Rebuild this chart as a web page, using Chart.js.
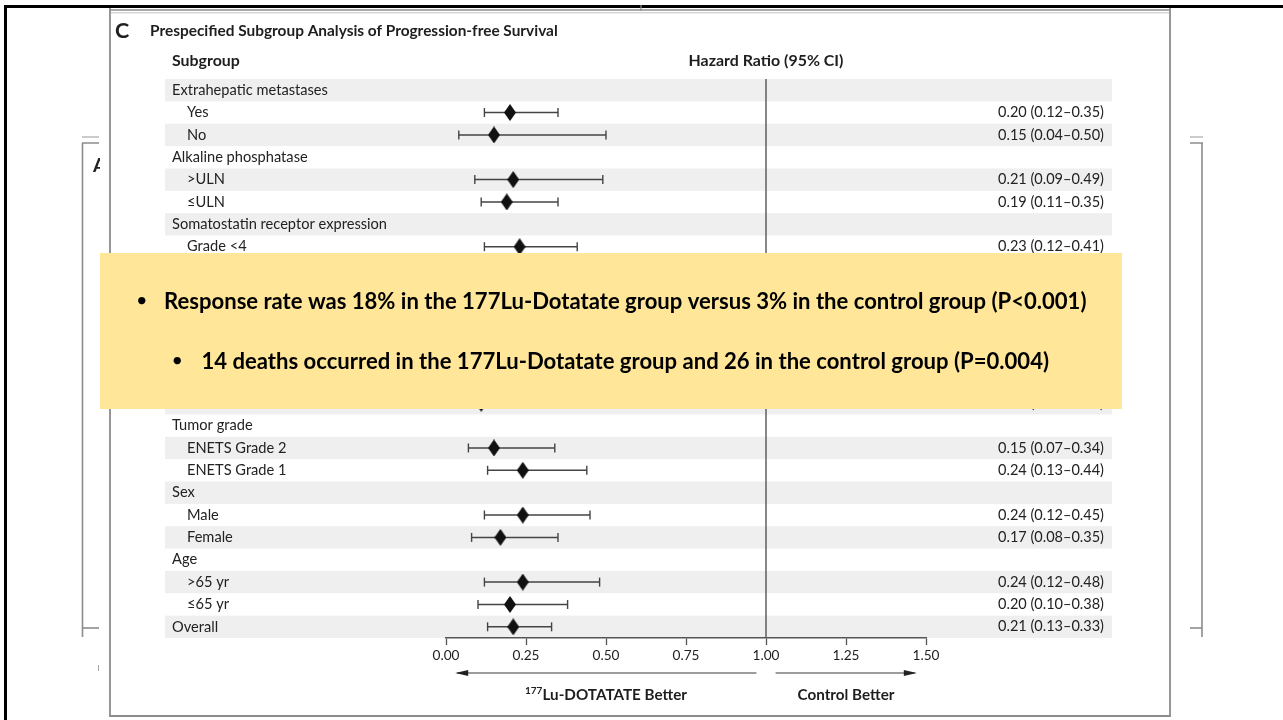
<!DOCTYPE html>
<html>
<head>
<meta charset="utf-8">
<title>Prespecified Subgroup Analysis of Progression-free Survival</title>
<script src="https://cdn.jsdelivr.net/npm/chart.js@4.4.1/dist/chart.umd.min.js"></script>
<style>
  html, body { margin: 0; padding: 0; background: #fff; }
  #wrap { width: 1283px; height: 720px; }
</style>
</head>
<body>
<div id="wrap"><canvas id="forest" width="1283" height="720"></canvas></div>
<script>
// rows, top to bottom
const rowLabels = [
    'Extrahepatic metastases', 'Yes', 'No',
    'Alkaline phosphatase', '>ULN', '\u2264ULN',
    'Somatostatin receptor expression', 'Grade <4', 'Grade 4',
    'Chromogranin A', '>2\u00d7ULN', '\u22642\u00d7ULN',
    '5-HIAA', '>2\u00d7ULN', '\u22642\u00d7ULN',
    'Tumor grade', 'ENETS Grade 2', 'ENETS Grade 1',
    'Sex', 'Male', 'Female',
    'Age', '>65 yr', '\u226465 yr',
    'Overall'
];
const rowIndent = [0, 1, 1, 0, 1, 1, 0, 1, 1, 0, 1, 1, 0, 1, 1, 0, 1, 1, 0, 1, 1, 0, 1, 1, 0];

const hazardRatio = [null, 0.20, 0.15, null, 0.21, 0.19, null, 0.23, 0.15, null, 0.22, 0.17, null, 0.21, 0.11, null, 0.15, 0.24, null, 0.24, 0.17, null, 0.24, 0.20, 0.21];
const ciLower     = [null, 0.12, 0.04, null, 0.09, 0.11, null, 0.12, 0.07, null, 0.12, 0.07, null, 0.11, 0.02, null, 0.07, 0.13, null, 0.12, 0.08, null, 0.12, 0.10, 0.13];
const ciUpper     = [null, 0.35, 0.50, null, 0.49, 0.35, null, 0.41, 0.33, null, 0.41, 0.42, null, 0.40, 0.87, null, 0.34, 0.44, null, 0.45, 0.35, null, 0.48, 0.38, 0.33];

const xTickValues = [0, 0.25, 0.5, 0.75, 1, 1.25, 1.5];
const xTickLabels = ['0.00', '0.25', '0.50', '0.75', '1.00', '1.25', '1.50'];

const calloutLines = [
    'Response rate was 18% in the 177Lu-Dotatate group versus 3% in the control group (P<0.001)',
    '14 deaths occurred in the 177Lu-Dotatate group and 26 in the control group (P=0.004)'
];

const FAMILY = "Lato, 'Open Sans', sans-serif";
const INK = '#1e1e1e';

// pick font sizes so the text runs as wide as in the figure
const mctx = document.createElement('canvas').getContext('2d');
function fitSize(text, weight, target) {
    mctx.font = `${weight} 100px ${FAMILY}`;
    return +(100 * target / mctx.measureText(text).width).toFixed(2);
}
const sz = {
    title: fitSize('Prespecified Subgroup Analysis of Progression-free Survival', 'bold', 408),
    head: fitSize('Hazard Ratio (95% CI)', 'bold', 155),
    row: fitSize('Extrahepatic metastases', 'normal', 156),
    hr: fitSize('0.20 (0.12\u20130.35)', 'normal', 106),
    tick: fitSize('0.00', 'normal', 27),
    foot: fitSize('Control Better', 'bold', 97),
    note: fitSize(calloutLines[0], 'bold', 923)
};

function diamondImage(w, h, color) {
    const c = document.createElement('canvas');
    c.width = w; c.height = h;
    const g = c.getContext('2d');
    g.fillStyle = color;
    g.beginPath();
    g.moveTo(w / 2, 0); g.lineTo(w, h / 2); g.lineTo(w / 2, h); g.lineTo(0, h / 2);
    g.closePath();
    g.fill();
    return c;
}

const diamondPoints = [];
const capPoints = [];
const whiskerPoints = [];
rowLabels.forEach((label, i) => {
    if (hazardRatio[i] === null) return;
    diamondPoints.push({ x: hazardRatio[i], y: i });
    capPoints.push({ x: ciLower[i], y: i }, { x: ciUpper[i], y: i });
    whiskerPoints.push({ x: ciLower[i], y: i }, { x: ciUpper[i], y: i }, { x: null, y: null });
});

function line(ctx, x1, y1, x2, y2, color, width) {
    ctx.strokeStyle = color;
    ctx.lineWidth = width;
    ctx.beginPath();
    ctx.moveTo(x1, y1);
    ctx.lineTo(x2, y2);
    ctx.stroke();
}

function arrow(ctx, x1, x2, y) {
    line(ctx, x1, y, x2, y, '#3a3a3a', 1.2);
    const dir = x2 > x1 ? 1 : -1;
    ctx.fillStyle = '#222';
    ctx.beginPath();
    ctx.moveTo(x2 + dir * 2, y);
    ctx.lineTo(x2 - dir * 11, y - 3);
    ctx.lineTo(x2 - dir * 11, y + 3);
    ctx.closePath();
    ctx.fill();
}

const forestDecor = {
    id: 'forestDecor',
    beforeDraw(chart) {
        const { ctx, scales: { y } } = chart;
        ctx.save();
        ctx.fillStyle = '#fff';
        ctx.fillRect(0, 0, chart.width, chart.height);
        // alternate row shading
        ctx.fillStyle = '#efefef';
        rowLabels.forEach((label, i) => {
            if (i % 2 !== 0) return;
            const top = y.getPixelForValue(i - 0.5);
            const bottom = y.getPixelForValue(i + 0.5);
            ctx.fillRect(165, top, 1112 - 165, bottom - top);
        });
        ctx.restore();
    },
    beforeDatasetsDraw(chart) {
        const { ctx, chartArea, scales: { x } } = chart;
        ctx.save();
        const x1 = x.getPixelForValue(1);
        line(ctx, x1, chartArea.top, x1, chartArea.bottom, '#555', 1.4);
        ctx.restore();
    },
    afterDraw(chart) {
        const { ctx, chartArea, scales: { x, y } } = chart;
        ctx.save();

        // surrounding page frame
        line(ctx, 4, 6.5, 1283, 6.5, '#000', 3);
        line(ctx, 5.5, 5, 5.5, 720, '#000', 3);
        line(ctx, 110, 10, 1170, 10, '#8c8c8c', 1.6);
        line(ctx, 110, 12.8, 1170, 12.8, '#c4c4c4', 1);
        line(ctx, 110, 8, 110, 717, '#8c8c8c', 1.8);
        line(ctx, 1170, 8, 1170, 717, '#8c8c8c', 1.8);
        line(ctx, 110, 716, 1170, 716, '#8c8c8c', 1.8);
        line(ctx, 641, 5, 641, 11, '#8c8c8c', 1.2);
        // neighbouring panels
        line(ctx, 82, 137, 99, 137, '#b0b0b0', 1.3);
        line(ctx, 82, 143, 99, 143, '#8c8c8c', 1.5);
        line(ctx, 82.5, 143, 82.5, 637, '#8c8c8c', 1.6);
        line(ctx, 82, 628, 99, 628, '#8c8c8c', 1.6);
        line(ctx, 98.5, 665, 98.5, 671, '#aaa', 1);
        line(ctx, 1190, 137, 1203, 137, '#b0b0b0', 1.3);
        line(ctx, 1190, 143, 1203, 143, '#8c8c8c', 1.5);
        line(ctx, 1202, 143, 1202, 637, '#8c8c8c', 1.6);
        line(ctx, 1190, 628, 1202, 628, '#8c8c8c', 1.6);
        ctx.save();
        ctx.beginPath();
        ctx.rect(86, 150, 14, 30);
        ctx.clip();
        ctx.fillStyle = '#222';
        ctx.font = `bold 19px ${FAMILY}`;
        ctx.textBaseline = 'middle';
        ctx.fillText('A', 93, 166);
        ctx.restore();

        // title and column heads
        ctx.fillStyle = INK;
        ctx.textBaseline = 'middle';
        ctx.textAlign = 'left';
        ctx.font = `bold ${sz.title * 1.4}px ${FAMILY}`;
        ctx.fillText('C', 115, 31);
        ctx.font = `bold ${sz.title}px ${FAMILY}`;
        ctx.fillText('Prespecified Subgroup Analysis of Progression-free Survival', 150, 31);
        ctx.font = `bold ${sz.head}px ${FAMILY}`;
        ctx.fillText('Subgroup', 172, 61);
        ctx.textAlign = 'center';
        ctx.fillText('Hazard Ratio (95% CI)', x.getPixelForValue(1), 61);

        // row labels and estimates
        rowLabels.forEach((label, i) => {
            const py = y.getPixelForValue(i);
            ctx.fillStyle = '#222';
            ctx.textAlign = 'left';
            ctx.font = `${sz.row}px ${FAMILY}`;
            ctx.fillText(label, rowIndent[i] ? 187 : 172, py);
            if (hazardRatio[i] !== null) {
                ctx.textAlign = 'right';
                ctx.font = `${sz.hr}px ${FAMILY}`;
                const txt = `${hazardRatio[i].toFixed(2)} (${ciLower[i].toFixed(2)}\u2013${ciUpper[i].toFixed(2)})`;
                ctx.fillText(txt, 1104, py);
            }
        });

        // direction arrows and captions
        const ay = chartArea.bottom + 35;
        arrow(ctx, x.getPixelForValue(0.97), x.getPixelForValue(0.035), ay);
        arrow(ctx, x.getPixelForValue(1.03), x.getPixelForValue(1.465), ay);
        const fy = chartArea.bottom + 57;
        ctx.fillStyle = INK;
        ctx.textAlign = 'left';
        const mainTxt = 'Lu-DOTATATE Better';
        ctx.font = `bold ${sz.foot * 0.66}px ${FAMILY}`;
        const supW = ctx.measureText('177').width;
        ctx.font = `bold ${sz.foot}px ${FAMILY}`;
        const mainW = ctx.measureText(mainTxt).width;
        const sx = x.getPixelForValue(0.5) - (supW + mainW) / 2;
        ctx.font = `bold ${sz.foot * 0.66}px ${FAMILY}`;
        ctx.fillText('177', sx, fy - 4);
        ctx.font = `bold ${sz.foot}px ${FAMILY}`;
        ctx.fillText(mainTxt, sx + supW, fy);
        ctx.textAlign = 'center';
        ctx.fillText('Control Better', x.getPixelForValue(1.25), fy);

        // yellow callout box laid over the figure
        ctx.fillStyle = '#ffe699';
        ctx.fillRect(100, 253, 1022, 156);
        ctx.fillStyle = '#000';
        ctx.textAlign = 'left';
        ctx.font = `bold ${sz.note}px ${FAMILY}`;
        ctx.fillText(calloutLines[0], 164, 302);
        const w2 = ctx.measureText(calloutLines[1]).width;
        const s2 = 1049 - w2;
        ctx.fillText(calloutLines[1], s2, 362);
        ctx.font = `${sz.note * 0.9}px ${FAMILY}`;
        ctx.fillText('\u2022', 136, 301);
        ctx.fillText('\u2022', s2 - 30, 361);

        ctx.restore();
    }
};

const ctx = document.getElementById('forest').getContext('2d');
new Chart(ctx, {
    type: 'scatter',
    data: {
        datasets: [{
            label: 'Hazard ratio',
            data: diamondPoints,
            pointStyle: diamondImage(12, 17, '#111'),
            pointRadius: 8,
            order: 1
        }, {
            label: 'CI ends',
            data: capPoints,
            pointStyle: 'line',
            rotation: 90,
            pointRadius: 4.5,
            borderColor: '#444',
            borderWidth: 1.4,
            order: 2
        }, {
            type: 'line',
            label: '95% CI',
            data: whiskerPoints,
            borderColor: '#444',
            borderWidth: 1.5,
            pointRadius: 0,
            spanGaps: false,
            fill: false,
            order: 3
        }]
    },
    options: {
        responsive: false,
        animation: false,
        events: [],
        layout: {
            padding: { left: 446, right: 357, top: 79, bottom: 52 }
        },
        plugins: {
            legend: { display: false },
            tooltip: { enabled: false }
        },
        scales: {
            x: {
                type: 'linear',
                min: 0,
                max: 1.5,
                afterBuildTicks: scale => {
                    scale.ticks = xTickValues.map(v => ({ value: v }));
                },
                afterFit: scale => {
                    scale.height = 30;
                },
                ticks: {
                    callback: (value, index) => xTickLabels[index],
                    color: '#222',
                    font: { family: FAMILY, size: sz.tick },
                    padding: 2,
                    maxRotation: 0,
                    autoSkip: false
                },
                grid: {
                    drawOnChartArea: false,
                    drawTicks: true,
                    tickLength: 7,
                    tickColor: '#555',
                    tickWidth: 1.3
                },
                border: { display: true, color: '#555', width: 1.5 }
            },
            y: {
                type: 'linear',
                min: -0.5,
                max: 24.5,
                reverse: true,
                display: false
            }
        }
    },
    plugins: [forestDecor]
});
</script>
</body>
</html>
